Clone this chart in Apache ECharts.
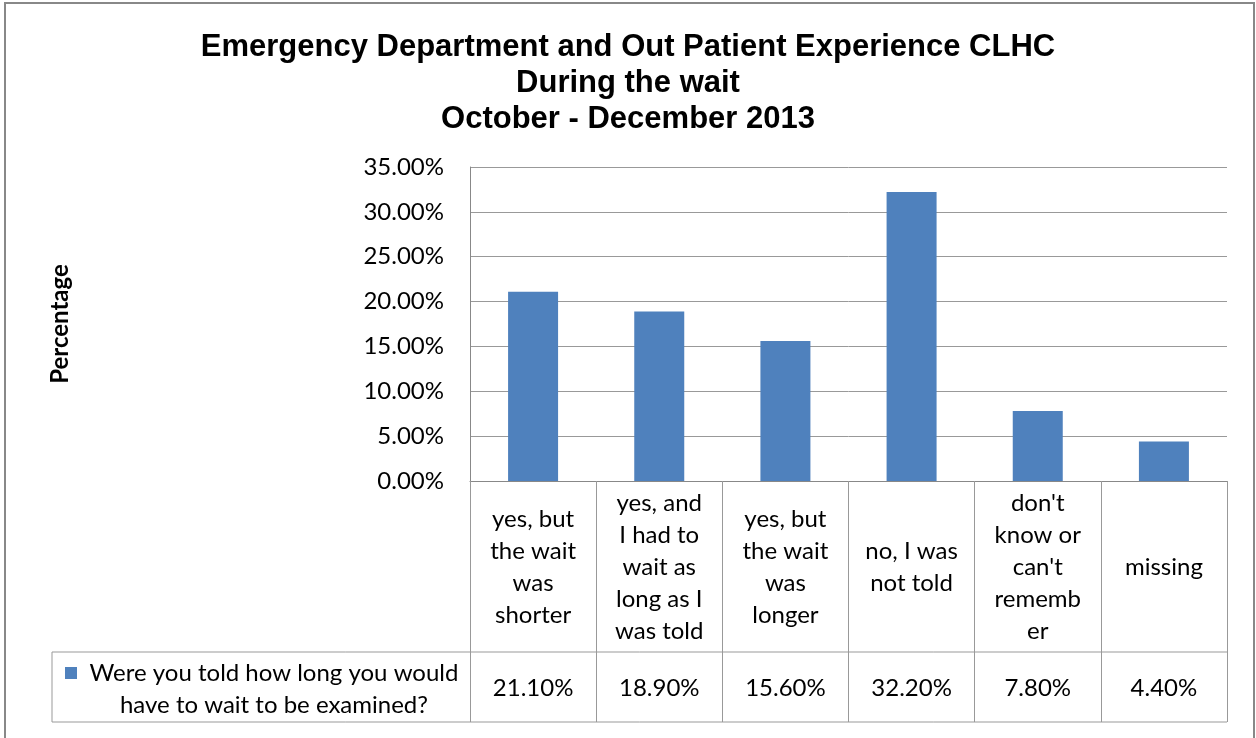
<!DOCTYPE html>
<html>
<head>
<meta charset="utf-8">
<script src="https://cdn.jsdelivr.net/npm/echarts@6/dist/echarts.min.js"></script>
<style>
  html, body { margin: 0; padding: 0; background: #fff; }
  #main { width: 1256px; height: 738px; }
</style>
</head>
<body>
<div id="main"></div>
<script>
// data
var categories = [
    'yes, but\nthe wait\nwas\nshorter',
    'yes, and\nI had to\nwait as\nlong as I\nwas told',
    'yes, but\nthe wait\nwas\nlonger',
    'no, I was\nnot told',
    "don't\nknow or\ncan't\nrememb\ner",
    'missing'
];
var values = [21.10, 18.90, 15.60, 32.20, 7.80, 4.40];
var seriesName = 'Were you told how long you would have to wait to be examined?';
var yTicks = [0, 5, 10, 15, 20, 25, 30, 35];

var bodyFont = 'Lato';
var chart = echarts.init(document.getElementById('main'));

var option = {
    backgroundColor: '#fff',
    animation: false,
    title: {
        text: 'Emergency Department and Out Patient Experience CLHC\nDuring the wait\nOctober - December 2013',
        left: 'center',
        top: 24,
        textStyle: {
            fontFamily: 'Liberation Sans',
            fontWeight: 'bold',
            fontSize: 31,
            lineHeight: 36,
            color: '#000'
        }
    },
    legend: {
        left: 60,
        top: 656,
        itemWidth: 12,
        itemHeight: 12,
        data: [{ name: seriesName, icon: 'rect' }],
        formatter: function () {
            return '{a|Were you told how long you would}\n{a|have to wait to be examined?}';
        },
        textStyle: {
            fontFamily: bodyFont,
            fontSize: 24,
            color: '#000',
            padding: [32, 0, 0, 0],
            rich: {
                a: { width: 384, align: 'center', fontFamily: bodyFont, fontSize: 24, lineHeight: 32, color: '#000' }
            }
        }
    },
    grid: {
        left: 470,
        right: 29,
        top: 167,
        bottom: 257
    },
    xAxis: [
        {
            type: 'category',
            data: categories,
            axisLine: { lineStyle: { color: '#888', width: 1 } },
            axisTick: { show: true, interval: 0, length: 241, lineStyle: { color: '#999' } },
            axisLabel: {
                interval: 0,
                margin: 86,
                verticalAlign: 'middle',
                fontFamily: bodyFont,
                fontSize: 24,
                lineHeight: 32,
                color: '#000'
            }
        },
        {
            type: 'category',
            position: 'bottom',
            data: categories,
            axisLine: { show: false },
            axisTick: { show: false },
            axisLabel: {
                interval: 0,
                margin: 207,
                verticalAlign: 'middle',
                fontFamily: bodyFont,
                fontSize: 24,
                color: '#000',
                formatter: function (v, i) { return values[i].toFixed(2) + '%'; }
            }
        }
    ],
    yAxis: {
        type: 'value',
        min: yTicks[0],
        max: yTicks[yTicks.length - 1],
        interval: 5,
        name: 'Percentage',
        nameLocation: 'middle',
        nameRotate: 90,
        nameGap: 398,
        nameTextStyle: { fontFamily: bodyFont, fontWeight: 'bold', fontSize: 24, color: '#000' },
        axisLine: { show: true, lineStyle: { color: '#888' } },
        axisTick: { show: false },
        splitLine: { lineStyle: { color: '#999' } },
        axisLabel: {
            margin: 26,
            fontFamily: bodyFont,
            fontSize: 24,
            color: '#000',
            formatter: function (v) { return v.toFixed(2) + '%'; }
        }
    },
    series: [
        {
            name: seriesName,
            type: 'bar',
            data: values,
            barWidth: 50,
            itemStyle: { color: '#4F81BD' }
        }
    ],
    graphic: [
        // outer chart frame
        { type: 'rect', shape: { x: 5, y: 3, width: 1249, height: 760 }, style: { fill: null, stroke: '#888', lineWidth: 2 }, silent: true },
        // data table borders
        { type: 'line', shape: { x1: 52, y1: 652, x2: 1227, y2: 652 }, style: { stroke: '#999', lineWidth: 1 }, silent: true },
        { type: 'line', shape: { x1: 52, y1: 722, x2: 1227, y2: 722 }, style: { stroke: '#999', lineWidth: 1 }, silent: true },
        { type: 'line', shape: { x1: 52, y1: 652, x2: 52, y2: 722 }, style: { stroke: '#999', lineWidth: 1 }, silent: true }
    ]
};

chart.setOption(option);
</script>
</body>
</html>
